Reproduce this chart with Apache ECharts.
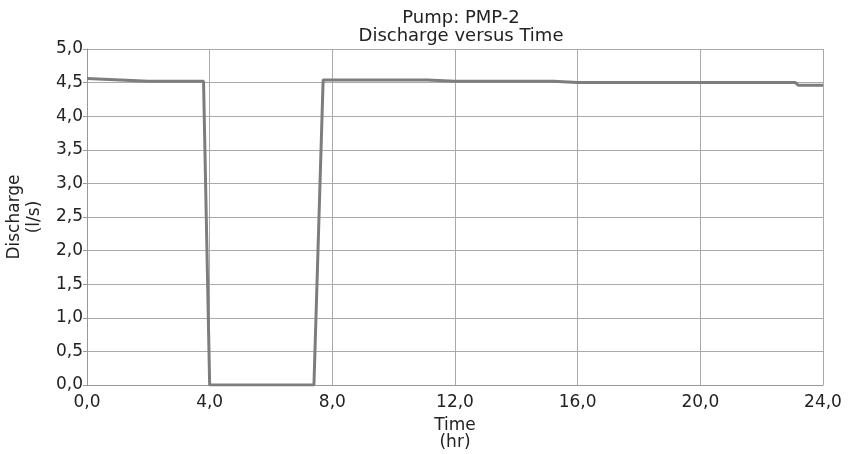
<!DOCTYPE html>
<html><head><meta charset="utf-8">
<script src="https://cdn.jsdelivr.net/npm/echarts@6/dist/echarts.min.js"></script>
<style>html,body{margin:0;padding:0;background:#fff}#c{width:849px;height:454px}</style>
</head><body><div id="c"></div>
<script>
const titleLines = ['Pump: PMP-2', 'Discharge versus Time'];
const xName = 'Time\n(hr)';
const yName = 'Discharge\n(l/s)';
const timeHr = [0.0, 2.0, 3.8, 4.0, 7.4, 7.7, 11.1, 12.0, 15.2, 16.0, 23.1, 23.2, 24.0];
const dischargeLs = [4.56, 4.52, 4.52, 0.0, 0.0, 4.54, 4.54, 4.52, 4.52, 4.50, 4.50, 4.46, 4.46];

const fmt = v => v.toFixed(1).replace('.', ',');
const font = 'DejaVu Sans';
const chart = echarts.init(document.getElementById('c'), null, {renderer: 'canvas'});
chart.setOption({
  animation: false,
  backgroundColor: '#fff',
  title: {
    text: titleLines.join('\n'), left: 456, top: 4, textAlign: 'center',
    textStyle: {fontFamily: font, fontSize: 18, fontWeight: 'normal', color: '#222', lineHeight: 18}
  },
  grid: {left: 87, right: 26, top: 49, bottom: 69, containLabel: false, outerBoundsMode: 'none'},
  xAxis: {
    type: 'value', min: 0, max: 24, interval: 4,
    name: xName, nameLocation: 'middle', nameGap: 32,
    nameTextStyle: {fontFamily: font, fontSize: 17, color: '#222', lineHeight: 17},
    axisLine: {show: true, lineStyle: {color: '#999', width: 1}},
    axisTick: {show: false},
    axisLabel: {formatter: fmt, fontFamily: font, fontSize: 17, color: '#222', margin: 9},
    splitLine: {show: true, lineStyle: {color: '#aaa', width: 1}}
  },
  yAxis: {
    type: 'value', min: 0, max: 5, interval: 0.5,
    name: yName, nameLocation: 'middle', nameRotate: 90, nameGap: 41,
    nameTextStyle: {fontFamily: font, fontSize: 17, color: '#222', lineHeight: 20},
    axisLine: {show: true, lineStyle: {color: '#999', width: 1}},
    axisTick: {show: true, length: 4, lineStyle: {color: '#999'}},
    axisLabel: {formatter: fmt, fontFamily: font, fontSize: 17, color: '#222', margin: 4},
    splitLine: {show: true, lineStyle: {color: '#aaa', width: 1}}
  },
  series: [{
    type: 'line', data: timeHr.map((t, i) => [t, dischargeLs[i]]),
    showSymbol: false, lineStyle: {color: '#7d7d7d', width: 3}
  }]
});
</script></body></html>
